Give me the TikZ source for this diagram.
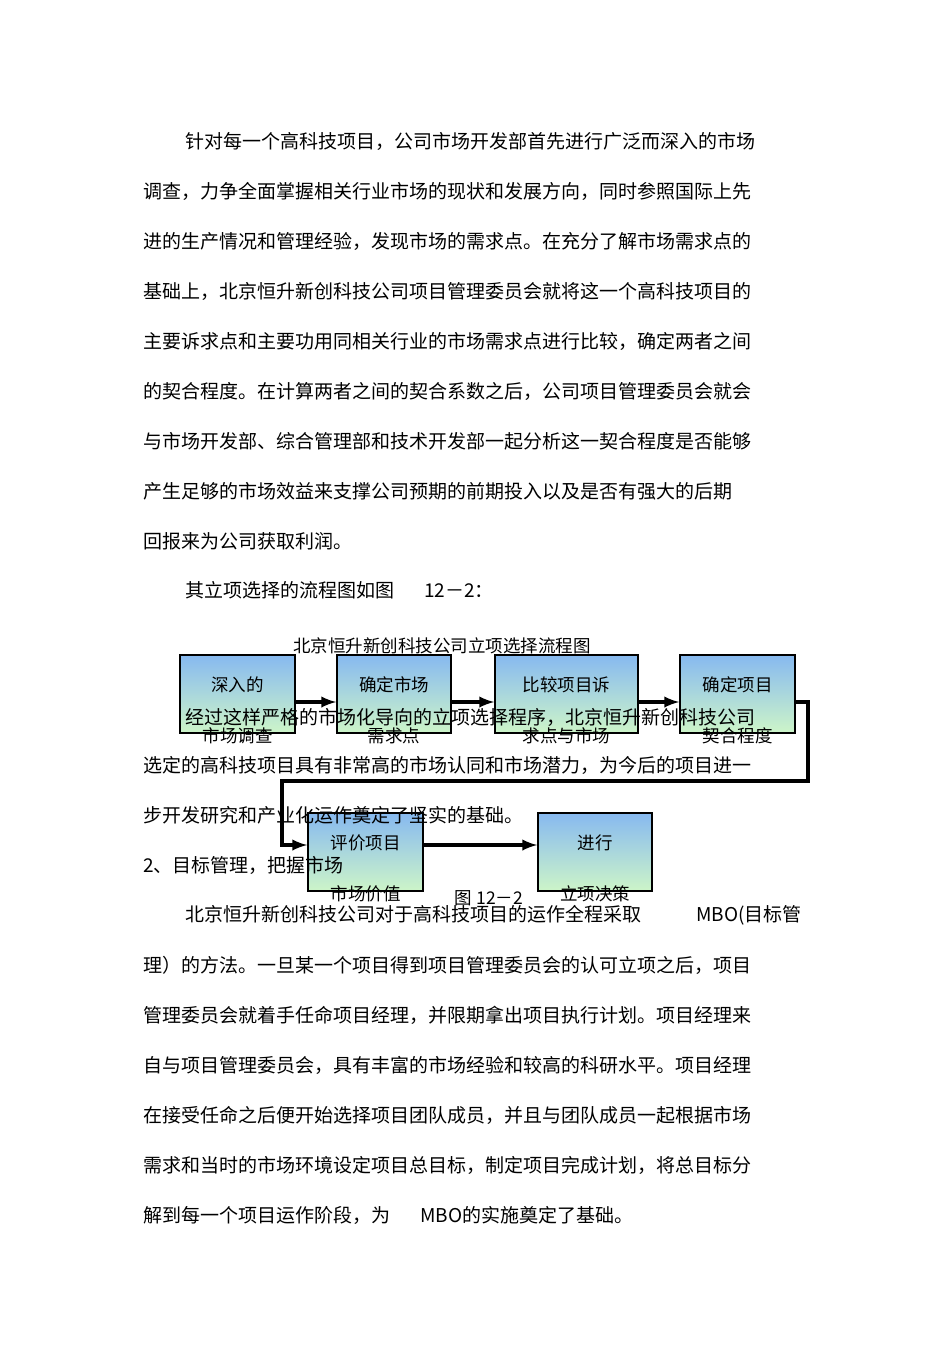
\documentclass[tikz,border=0pt]{standalone}
\usepackage{fontspec}
\newfontfamily\cjk{Noto Sans CJK SC}
\usetikzlibrary{positioning}
\definecolor{boxtop}{RGB}{135,185,240}
\definecolor{boxbot}{RGB}{205,245,200}
\begin{document}
\begin{tikzpicture}[x=1pt,y=-1pt,
  line/.style={anchor=west,inner sep=0pt,font=\cjk\fontsize{19}{20}\selectfont},
  stepbox/.style={draw=black,line width=1.6pt,top color=boxtop,bottom color=boxbot,minimum height=78pt,inner sep=0pt},
  boxtxt/.style={inner sep=0pt,font=\cjk\fontsize{17.5}{20}\selectfont},
  flow/.style={line width=4pt,-latex}]
  \useasboundingbox[fill=white] (0,0) rectangle (950,1345);
  % Body text
  \foreach \yy/\xx/\txt [count=\i] in {
    141/185/针对每一个高科技项目，公司市场开发部首先进行广泛而深入的市场,
    191/143/调查，力争全面掌握相关行业市场的现状和发展方向，同时参照国际上先,
    241/143/进的生产情况和管理经验，发现市场的需求点。在充分了解市场需求点的,
    291/143/基础上，北京恒升新创科技公司项目管理委员会就将这一个高科技项目的,
    341/143/主要诉求点和主要功用同相关行业的市场需求点进行比较，确定两者之间,
    391/143/的契合程度。在计算两者之间的契合系数之后，公司项目管理委员会就会,
    441/143/与市场开发部、综合管理部和技术开发部一起分析这一契合程度是否能够,
    491/143/产生足够的市场效益来支撑公司预期的前期投入以及是否有强大的后期,
    541/143/回报来为公司获取利润。,
    590/185/其立项选择的流程图如图\hspace{30pt}12－2：}
    \node[line] (p\i) at (\xx,\yy) {\txt};
  % Flow chart boxes
  \node[stepbox,minimum width=115pt] (b1) at (237.5,694) {};
  \node[stepbox,minimum width=114pt] (b2) at (394,694) {};
  \node[stepbox,minimum width=143pt] (b3) at (566.5,694) {};
  \node[stepbox,minimum width=115pt] (b4) at (737.5,694) {};
  \node[stepbox,minimum width=115pt] (b5) at (365.5,852) {};
  \node[stepbox,minimum width=114pt] (b6) at (595,852) {};
  \foreach \b/\ta/\tb in {b1/深入的/市场调查, b2/确定市场/需求点, b3/比较项目诉/求点与市场, b4/确定项目/契合程度, b5/评价项目/市场价值, b6/进行/立项决策} {
    \node[boxtxt] (\b t) at ([yshift=-31pt]\b.north) {\ta};
    \node[boxtxt] (\b u) at ([yshift=-2pt]\b.south) {\tb};
  }
  \coordinate (c1) at (808,702);
  \coordinate (c2) at (808,781);
  \coordinate (c3) at (282,781);
  \coordinate (c4) at (282,845);
  % Connectors
  \draw[flow] (b1.east |- 0,702) -- (b2.west |- 0,702);
  \draw[flow] (b2.east |- 0,702) -- (b3.west |- 0,702);
  \draw[flow] (b3.east |- 0,702) -- (b4.west |- 0,702);
  \draw[line width=4pt] (b4.east |- c1) -- (c1) -- (c2) -- (c3) -- (c4);
  \draw[flow] ([xshift=-2pt]c4) -- (b5.west |- c4);
  \draw[flow] (b5.east |- c4) -- (b6.west |- c4);
  % Text overlapping the chart
  \node[boxtxt] (title) at (442,646) {北京恒升新创科技公司立项选择流程图};
  \foreach \yy/\xx/\txt [count=\i] in {
    717/185/经过这样严格的市场化导向的立项选择程序，北京恒升新创科技公司,
    765/143/选定的高科技项目具有非常高的市场认同和市场潜力，为今后的项目进一,
    815/143/步开发研究和产业化运作奠定了坚实的基础。,
    865/143/2、目标管理，把握市场,
    915/185/北京恒升新创科技公司对于高科技项目的运作全程采取\hspace{55pt}MBO(目标管,
    965/143/理）的方法。一旦某一个项目得到项目管理委员会的认可立项之后，项目,
    1015/143/管理委员会就着手任命项目经理，并限期拿出项目执行计划。项目经理来,
    1065/143/自与项目管理委员会，具有丰富的市场经验和较高的科研水平。项目经理,
    1115/143/在接受任命之后便开始选择项目团队成员，并且与团队成员一起根据市场,
    1165/143/需求和当时的市场环境设定项目总目标，制定项目完成计划，将总目标分,
    1215/143/解到每一个项目运作阶段，为\hspace{30pt}MBO的实施奠定了基础。}
    \node[line] (q\i) at (\xx,\yy) {\txt};
  \node[boxtxt] (cap) at (489,898) {图 12－2};
\end{tikzpicture}
\end{document}
